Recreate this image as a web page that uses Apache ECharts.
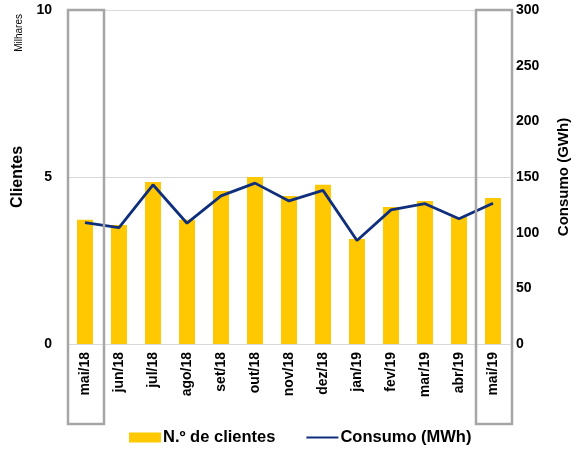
<!DOCTYPE html>
<html>
<head>
<meta charset="utf-8">
<script src="https://cdn.jsdelivr.net/npm/echarts@6/dist/echarts.min.js"></script>
<style>
  html, body { margin: 0; padding: 0; background: #fff; }
  #chart { width: 579px; height: 452px; }
</style>
</head>
<body>
<div id="chart"></div>
<script>
// meses
const meses = ['mai/18', 'jun/18', 'jul/18', 'ago/18', 'set/18', 'out/18', 'nov/18',
  'dez/18', 'jan/19', 'fev/19', 'mar/19', 'abr/19', 'mai/19']

// N.º de clientes (milhares)
const clientes = [3.72, 3.56, 4.85, 3.72, 4.58, 5.0, 4.43, 4.77, 3.14, 4.1, 4.28, 3.8, 4.37]

// Consumo (GWh)
const consumo = [109, 104.5, 143, 108.5, 133, 144.5, 128.5, 138, 93, 120.5, 126, 112.5, 126.5]

const eixoEsq = [0, 5, 10]
const eixoDir = [0, 50, 100, 150, 200, 250, 300]

const fonte = '"Liberation Sans", Arial, sans-serif'
const amarelo = '#FFC800'
const azul = '#0F2F7C'
const cinza = '#A6A6A6'

const chart = echarts.init(document.getElementById('chart'))

const option = {
  animation: false,
  textStyle: { fontFamily: fonte },
  grid: { left: 68, right: 66, top: 10, bottom: 108 },
  legend: {
    bottom: 1,
    left: 124,
    itemGap: 30,
    itemWidth: 32,
    itemHeight: 10,
    textStyle: { fontFamily: fonte, fontWeight: 'bold', fontSize: 16.5, color: '#000', padding: [0, 0, 0, -3] },
    data: [
      { name: 'N.º de clientes', icon: 'rect' },
      { name: 'Consumo (MWh)', itemStyle: { opacity: 0 } }
    ]
  },
  xAxis: {
    type: 'category',
    data: meses,
    axisLine: { lineStyle: { color: '#D9D9D9', width: 1 } },
    axisTick: { show: false },
    axisLabel: {
      rotate: 90,
      interval: 0,
      margin: 8,
      color: '#000',
      fontWeight: 'bold',
      fontSize: 14,
      fontFamily: fonte
    }
  },
  yAxis: [
    {
      type: 'value',
      min: eixoEsq[0],
      max: eixoEsq[eixoEsq.length - 1],
      interval: 5,
      name: 'Clientes',
      nameLocation: 'middle',
      nameRotate: 90,
      nameGap: 40,
      nameTextStyle: { fontWeight: 'bold', fontSize: 16, color: '#000', fontFamily: fonte },
      axisLine: { show: false },
      axisTick: { show: false },
      axisLabel: { color: '#000', fontWeight: 'bold', fontSize: 14, margin: 16, fontFamily: fonte },
      splitLine: { lineStyle: { color: '#D9D9D9', width: 1 } }
    },
    {
      type: 'value',
      min: eixoDir[0],
      max: eixoDir[eixoDir.length - 1],
      interval: 50,
      name: 'Consumo (GWh)',
      nameLocation: 'middle',
      nameRotate: 90,
      nameGap: 46,
      nameTextStyle: { fontWeight: 'bold', fontSize: 15, color: '#000', fontFamily: fonte },
      axisLine: { show: false },
      axisTick: { show: false },
      axisLabel: { color: '#000', fontWeight: 'bold', fontSize: 14, margin: 6, fontFamily: fonte },
      splitLine: { show: false }
    }
  ],
  series: [
    {
      name: 'N.º de clientes',
      type: 'bar',
      yAxisIndex: 0,
      data: clientes,
      barWidth: '47%',
      itemStyle: { color: amarelo }
    },
    {
      name: 'Consumo (MWh)',
      type: 'line',
      yAxisIndex: 1,
      data: consumo,
      symbol: 'none',
      lineStyle: { color: azul, width: 2.8 },
      itemStyle: { color: azul }
    }
  ]
}

chart.setOption(option)

// caixas cinzentas à volta do primeiro e último mês
function caixas() {
  const topo = chart.convertToPixel({ yAxisIndex: 0 }, eixoEsq[eixoEsq.length - 1])
  const meia = (chart.convertToPixel({ xAxisIndex: 0 }, 1) - chart.convertToPixel({ xAxisIndex: 0 }, 0)) / 2
  const idx = [0, meses.length - 1]
  const elems = idx.map((i) => {
    const cx = chart.convertToPixel({ xAxisIndex: 0 }, i)
    return {
      type: 'rect',
      shape: { x: cx - meia, y: topo, width: meia * 2 + 2, height: 414 },
      style: { fill: 'none', stroke: cinza, lineWidth: 2.5 },
      z: 10
    }
  })
  elems.push({
    type: 'text',
    left: 14,
    top: 14,
    rotation: Math.PI / 2,
    style: { text: 'Milhares', font: '10px ' + fonte, fill: '#000' }
  })
  chart.setOption({ graphic: elems })
}
caixas()
</script>
</body>
</html>
